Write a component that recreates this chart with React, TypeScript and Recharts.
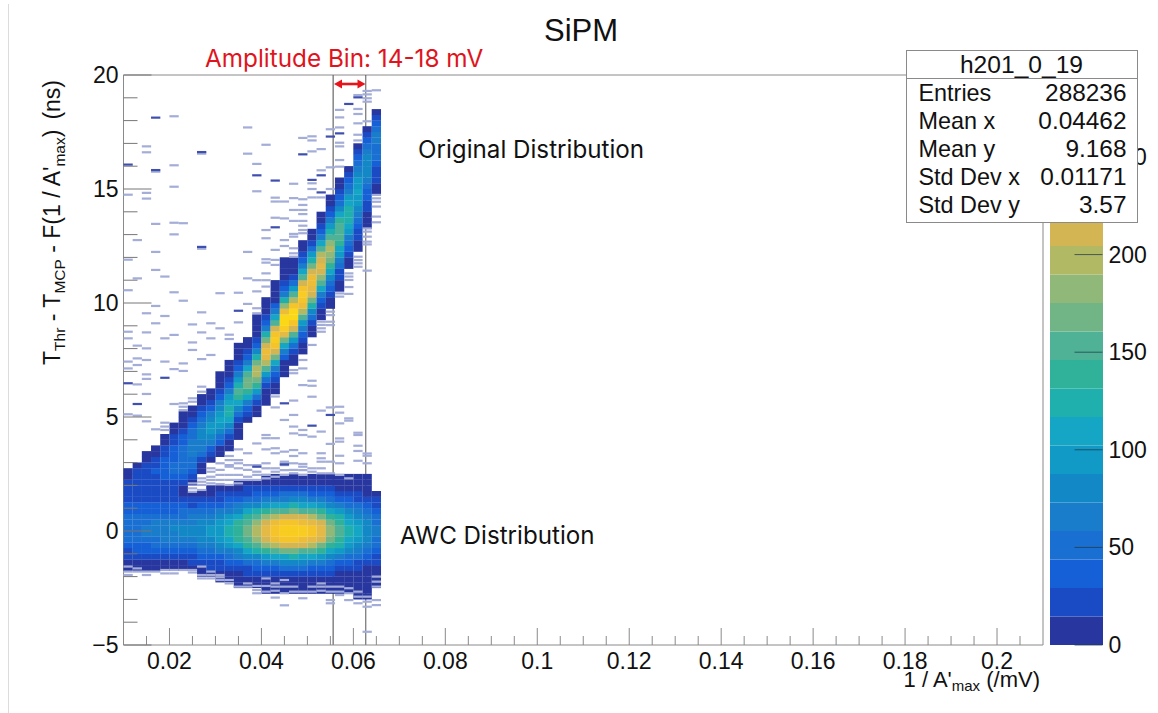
import React from 'react';
import { ScatterChart, Scatter, XAxis, YAxis, ReferenceLine, BarChart, Bar } from 'recharts';

const columnCentres = [
  0.011, 0.013, 0.015, 0.017, 0.019, 0.021, 0.023, 0.025, 0.027, 0.029, 0.031, 0.033, 0.035, 0.037,
  0.039, 0.041, 0.043, 0.045, 0.047, 0.049, 0.051, 0.053, 0.055, 0.057, 0.059, 0.061, 0.063, 0.065,
];

// lower (AWC) band, one row per column, rows of 0.25 ns starting at -3 ns
const awcStart = -3;
const awcCounts = [
  [0,0,0,0,0,4,10,18,28,38,47,53,55,52,46,38,30,24,20,18,16,12],
  [0,0,0,0,0,5,11,19,30,40,50,56,58,55,48,39,30,24,21,20,20,18],
  [0,0,0,0,0,5,11,20,32,43,54,60,62,58,50,40,30,24,22,22,22,22],
  [0,0,0,0,0,5,11,21,34,46,58,64,66,61,52,41,30,24,23,24,26,27],
  [0,0,0,0,0,5,12,23,36,49,61,68,70,64,54,42,30,22,20,22,28,32],
  [0,0,0,0,0,5,13,24,38,52,64,72,74,67,56,43,30,20,16,20,28,36],
  [0,0,0,0,0,5,14,26,40,55,68,76,78,70,58,44,30,18,12,14,24,36],
  [0,0,0,0,0,6,15,28,43,58,71,79,79,72,60,45,29,16,8,0,0,0],
  [0,0,0,0,6,13,22,34,47,61,73,79,79,73,61,47,34,22,13,0,0,0],
  [0,0,0,0,8,15,25,38,53,68,82,89,89,82,68,53,38,24,14,8,0,0],
  [0,0,0,2,9,16,28,43,60,78,93,101,101,93,78,60,43,28,16,9,0,0],
  [0,0,0,3,10,19,32,50,71,91,109,119,119,109,91,71,50,32,19,10,0,0],
  [0,0,2,5,13,23,39,61,86,110,132,144,143,132,110,85,61,39,23,13,6,0],
  [0,0,3,7,15,28,47,73,103,133,159,173,173,159,133,103,73,47,28,15,7,0],
  [0,0,4,9,18,33,55,86,121,156,187,203,203,186,156,121,86,55,33,18,9,0],
  [0,1,4,10,21,38,63,99,139,179,214,233,232,214,179,139,99,63,38,21,10,3],
  [0,2,5,11,23,42,70,109,153,198,237,257,257,237,198,153,109,70,42,23,11,5],
  [0,1,4,12,24,44,74,115,162,209,250,272,270,250,209,160,115,72,44,24,12,4],
  [0,2,5,12,25,45,76,118,165,213,255,277,277,255,213,165,118,76,45,25,12,5],
  [0,2,5,12,24,44,73,114,160,207,248,269,269,248,207,160,114,73,44,24,12,5],
  [0,2,5,11,22,40,68,106,149,192,229,249,249,229,192,149,106,68,40,22,11,5],
  [0,2,5,10,20,36,61,95,133,171,205,223,223,205,171,133,95,61,36,20,10,4],
  [0,2,4,8,17,30,51,80,112,144,173,188,188,173,144,112,80,51,30,17,8,4],
  [0,1,4,7,14,25,42,65,91,118,141,153,153,141,118,91,65,42,25,14,7,3],
  [0,1,3,6,11,20,34,52,74,95,114,124,124,114,95,74,52,34,20,11,6,3],
  [1,2,3,5,9,17,28,44,62,80,96,104,104,96,80,62,44,28,17,9,5,2],
  [1,2,3,4,8,14,23,36,50,65,77,84,84,77,65,50,36,23,14,8,4,2],
  [0,0,1,3,6,10,17,26,37,47,56,61,61,56,47,37,26,17,10,0,0,0],
];

// upper (original) band, rows of 0.25 ns from mainStart of each column
const mainStart = [
  2.5, 2.5, 2.5, 2.5, 2.5, 2.5, 2.5, 2, 2.5, 3, 3.25, 3.5, 4, 4.75,
  5, 5.5, 6, 6.75, 7.25, 7.75, 8.5, 9.25, 9.75, 10.5, 11.5, 12.25, 13.25, 14.75,
];
const mainCounts = [
  [8],
  [18,8],
  [26,18,10,4],
  [34,28,20,10,3],
  [40,38,34,28,20,12,5],
  [44,44,42,38,32,26,18,10,4],
  [48,52,52,50,44,38,30,22,14,8,3],
  [8,20,34,46,56,62,64,60,52,44,34,24,12,5],
  [6,14,28,44,60,72,78,76,66,52,38,24,12,5],
  [8,20,38,60,80,92,92,80,62,42,24,12,5],
  [5,14,30,52,78,98,106,100,84,62,42,24,12,4,1],
  [5,12,26,48,76,104,122,126,114,92,66,42,24,12,5,2],
  [2,5,12,26,49,82,116,141,148,128,95,60,32,15,6,2,1],
  [7,17,36,66,104,143,170,174,150,112,71,38,17,7,2],
  [4,10,24,50,88,133,174,198,195,166,122,78,43,20,8,3,1,1],
  [2,5,12,28,58,100,150,198,232,240,218,172,118,70,36,16,6,2,1],
  [3,7,16,34,65,110,163,215,253,268,255,215,160,105,60,30,13,5,2,1],
  [2,6,14,32,64,110,170,228,272,290,278,238,180,122,72,38,18,7,3,1,1],
  [4,10,24,52,96,150,208,255,280,278,250,200,146,95,55,28,12,5,2],
  [3,7,16,34,62,102,150,198,238,262,268,250,210,160,110,68,38,18,8,3],
  [4,10,22,44,78,120,165,205,232,245,240,215,175,130,88,54,28,13,5],
  [3,8,18,38,68,106,148,186,213,226,218,192,152,110,72,42,22,10,4],
  [3,8,16,30,52,80,112,143,170,186,192,182,158,126,92,62,38,20,10,4],
  [4,9,16,28,44,64,88,112,134,150,156,150,132,108,82,58,38,22,11,4],
  [6,12,21,33,49,68,88,106,120,126,122,108,90,70,50,33,20,10],
  [5,9,15,23,33,45,60,74,88,98,104,102,93,79,63,46,31,19,9],
  [6,9,13,18,25,33,43,54,66,76,84,84,77,66,52,38,25,13],
  [6,10,15,21,28,36,44,52,58,62,60,52,40,26,10],
];

// isolated single-count bins (y in ns) by column
const strayFaint = [
  [14.75,11.9,10.56,8.74,8.45,7.43,7.13,5.12,-1.56,-1.78,-1.93],
  [12.76,11.08,8.13,7.57,7.28,6.43,5.06,-1.64,-1.78],
  [16.87,16.61,14.83,14.58,9.55,8.71,8.01,7.5,6.87,6.67,6.01,4.81,-1.78,-1.93],
  [15.76,13.47,12.24,11.45,9.87,9.11,4.46,-1.78],
  [11.16,9.43,8.45,7.43,4.75,4.58,4.43,-1.71,-1.86],
  [18.19,16.04,15.1,13.52,13.01,10.47,8.6,7.1,5.57,-1.71,-1.86],
  [13.5,10.1,7.35,7.02,5.6,5.45,5.3,-1.71],
  [9.06,8.27,7.94,5.82,5.67,2.09,1.87,1.72,-1.71,-1.82],
  [16.55,12.38,9.59,8.71,7.54,6.33,6.11,2.31,2.16,2.02,1.8,-1.56,-1.93,-2.08],
  [9.11,8.45,7.72,2.75,2.6,2.38,2.24,2.09,-1.78,-1.93,-2.08],
  [10.43,8.89,2.97,2.68,2.46,2.24,2.06,-1.93,-2.03,-2.15],
  [8.61,8.42,3.29,3.11,2.89,2.82,2.46,2.24,2.02,-2.15,-2.3],
  [10.45,9.15,3.58,3.11,2.97,2.75,2.46,2.24,2.09,-2.44],
  [17.7,16.55,12.24,11.08,9.96,3.41,2.89,2.68,2.38,2.24,-2.3,-2.44],
  [16.1,14.9,11,10.51,9.77,9.55,3.84,2.89,2.6,2.46,2.24,-2.41,-2.59,-2.73],
  [16.94,13.2,12.84,11.92,11.77,11.3,11,10.72,4.21,4.07,3.58,2.97,2.75,2.46,2.31,-2.08,-2.41,-2.66],
  [14.62,14.45,13.74,12.33,11.89,11.67,5.9,5.42,4.07,3.63,3.41,2.75,2.6,2.38,-2.3,-2.44,-2.62,-2.92],
  [14.45,13.71,12.76,12.5,4.87,3.48,3.04,2.97,2.89,2.67,2.46,-2.15,-2.44,-2.73,-3.26],
  [15.23,14.6,14.08,13.6,13.03,12.91,12.4,12.18,12.03,7.06,6.92,5.72,5.09,4.58,4.28,3.55,3.29,2.97,2.68,2.53,-2.44,-2.66],
  [17.24,14.55,14.3,14.08,13.9,13.6,13.39,13.2,13.06,7.5,7.13,6.4,4.43,4.21,3.41,2.94,2.82,2.67,2.46,-2.66,-2.95],
  [17.31,17.13,16.65,15.25,15,14.63,8.16,6.59,6.37,5.89,4.14,2.75,2.6,-2.44,-2.66],
  [16.75,15.82,14.63,9.18,9.04,8.89,8.74,5.28,4.36,3.41,3.19,3.04,2.75,2.53,-2.3,-2.44,-2.62],
  [17.62,15.95,15,9.62,9.47,9.18,9.03,5.42,3.82,3.04,2.53,-2.44,-2.66,-3.03,-3.17],
  [18.47,18.14,17.7,17.03,16.87,16.27,15.98,10.42,10.28,5.45,5.19,4.72,4.06,3.92,3.3,2.97,2.46,-2.44,-2.66,-2.81],
  [11.3,11.16,11.01,10.7,10.4,4.94,4.84,2.31,-2.51,-2.73,-3.03],
  [19.12,18.51,18.29,17.88,17.38,17.13,12.03,11.88,11.74,11.59,4.31,4.21,3.74,3.51,3.08,-2.66,-2.88,-3.17],
  [19.3,19.15,18.98,18.83,17.97,13.27,13.13,12.91,12.69,12.57,11.42,3.4,3.3,2.97,-2.88,-3.1,-3.32,-4.42],
  [19.33,14.74,14.59,14.44,14.23,13.79,13.54,-2,-2.22,-2.44,-3.03,-3.25],
];
const straySolid = [
  [16.07,6.48],[5.57],[],[18.13,15.83],[6.72],[],[],[],[16.62,12.46],[],[],[],[9.66],[],
  [15.6,2.82],[],[15.37,13.32],[5.6,2.92],[],[16.52],[15.4,4.62],[15.6,14.85],[17.3,5.09],[17.44],[18.73],[19.02],[],[],
];

const contourColors = [
  '#28369f', '#1a4bc4', '#1560d6', '#1a6fd2', '#1a7dcb', '#1388c6', '#129ac6', '#14a6c4', '#1fafac', '#2fb19a',
  '#4fb296', '#71b587', '#90b878', '#b2b964', '#d3b553', '#e4b945', '#eebd38', '#f5c42a', '#f8cc20', '#fad818',
];
const contourStep = 14.6;

const xTicks = [
  0.01, 0.015, 0.02, 0.025, 0.03, 0.035, 0.04, 0.045, 0.05, 0.055, 0.06, 0.065, 0.07, 0.075, 0.08, 0.085, 0.09,
  0.095, 0.1, 0.105, 0.11, 0.115, 0.12, 0.125, 0.13, 0.135, 0.14, 0.145, 0.15, 0.155, 0.16, 0.165, 0.17, 0.175,
  0.18, 0.185, 0.19, 0.195, 0.2, 0.205,
];
const xLabels = [0.02, 0.04, 0.06, 0.08, 0.1, 0.12, 0.14, 0.16, 0.18, 0.2];
const yTicks = [-5,-4,-3,-2,-1,0,1,2,3,4,5,6,7,8,9,10,11,12,13,14,15,16,17,18,19,20];
const zTicks = [0, 50, 100, 150, 200, 250];

const statsRows = [
  ['Entries', '288236'],
  ['Mean x', '0.04462'],
  ['Mean y', '9.168'],
  ['Std Dev x', '0.01171'],
  ['Std Dev y', '3.57'],
];

const sansFont = '"Liberation Sans", Arial, sans-serif';
const noteFont = 'Inter, "Open Sans", sans-serif';

const CELL_W = 9.3;
const ROW_PX = 5.9; // 0.25 ns
const STRAY_PX = 2.2;

const levelOf = (count: number) => Math.min(contourColors.length - 1, Math.floor(count / contourStep));

const heatCells: { x: number; y: number; count: number }[] = [];
columnCentres.forEach((x, c) => {
  awcCounts[c].forEach((count, r) => {
    if (count > 0) heatCells.push({ x, y: awcStart + 0.25 * r + 0.125, count });
  });
  mainCounts[c].forEach((count, r) => {
    if (count > 0) heatCells.push({ x, y: mainStart[c] + 0.25 * r + 0.125, count });
  });
});
const faintCells = columnCentres.flatMap((x, c) => strayFaint[c].map((y) => ({ x, y })));
const solidCells = columnCentres.flatMap((x, c) => straySolid[c].map((y) => ({ x, y })));

const barRow = Object.fromEntries(contourColors.map((_, i) => [`level${i}`, contourStep]));

function HeatRect(props: any) {
  return (
    <rect
      x={props.cx - CELL_W / 2}
      y={props.cy - ROW_PX / 2}
      width={CELL_W}
      height={ROW_PX}
      fill={contourColors[levelOf(props.payload.count)]}
    />
  );
}

function strayRect(fill: string) {
  return (props: any) => (
    <rect x={props.cx - CELL_W / 2} y={props.cy - STRAY_PX / 2} width={CELL_W} height={STRAY_PX} fill={fill} />
  );
}

function XTick({ x, y, payload }: any) {
  const major = xLabels.includes(payload.value);
  return (
    <g>
      <line x1={x} x2={x} y1={y} y2={y - (major ? 17 : 9)} stroke="#8a8a8a" strokeWidth={1} />
      {major && (
        <text x={x} y={y + 24} textAnchor="middle" fontSize={23} fontFamily={sansFont} fill="#111">
          {payload.value}
        </text>
      )}
    </g>
  );
}

function YTick({ x, y, payload }: any) {
  const major = payload.value % 5 === 0;
  return (
    <g>
      <line x1={x} x2={x + (major ? 28 : 14)} y1={y} y2={y} stroke="#777" strokeWidth={1} />
      {major && (
        <text x={x - 5} y={y + 8} textAnchor="end" fontSize={23} fontFamily={sansFont} fill="#111">
          {payload.value < 0 ? `\u2212${-payload.value}` : payload.value}
        </text>
      )}
    </g>
  );
}

function ZTick({ x, y, payload }: any) {
  return (
    <g>
      <line x1={x - 28} x2={x} y1={y} y2={y} stroke="#1f3a4a" strokeWidth={1} opacity={0.75} />
      <text x={x + 6} y={y + 8} fontSize={23} fontFamily={sansFont} fill="#111">
        {payload.value}
      </text>
    </g>
  );
}

export default function App() {
  return (
    <div style={{ position: 'absolute', left: 0, top: 0, width: 1158, height: 713, background: '#fff', overflow: 'hidden' }}>
      <div style={{ position: 'absolute', left: 8, top: 4, width: 1, height: 709, background: '#dcdcdc' }} />

      <div style={{ position: 'absolute', left: 0, top: 0 }}>
        <ScatterChart width={1158} height={713} margin={{ top: 75, right: 115, bottom: 28, left: 63.5 }}>
          <XAxis
            type="number"
            dataKey="x"
            domain={[0.01, 0.21]}
            ticks={xTicks}
            interval={0}
            height={40}
            tickSize={0}
            tickMargin={0}
            tickLine={false}
            stroke="#8a8a8a"
            tick={(p: any) => <XTick {...p} />}
          />
          <YAxis
            type="number"
            dataKey="y"
            domain={[-5, 20]}
            ticks={yTicks}
            interval={0}
            width={60}
            tickSize={0}
            tickMargin={0}
            tickLine={false}
            stroke="#8a8a8a"
            tick={(p: any) => <YTick {...p} />}
          />
          <Scatter data={heatCells} shape={HeatRect} isAnimationActive={false} />
          <Scatter data={faintCells} shape={strayRect('#a3add8')} isAnimationActive={false} />
          <Scatter data={solidCells} shape={strayRect('#3f4fb0')} isAnimationActive={false} />
          <ReferenceLine y={20} stroke="#8a8a8a" />
          <ReferenceLine x={0.21} stroke="#8a8a8a" />
          <ReferenceLine x={0.0556} stroke="#666" strokeWidth={1.2} />
          <ReferenceLine x={0.0627} stroke="#555" strokeWidth={1} />
          <ReferenceLine segment={[{ x: 0.01, y: 0 }, { x: 0.0161, y: 0 }]} stroke="#1c2a60" />
          <ReferenceLine segment={[{ x: 0.01, y: -1 }, { x: 0.0131, y: -1 }]} stroke="#1c2a60" />
        </ScatterChart>
      </div>

      <div style={{ position: 'absolute', left: 1049.5, top: 0 }}>
        <BarChart
          width={108.5}
          height={713}
          data={[barRow]}
          barCategoryGap={0}
          margin={{ top: 75, right: 0, bottom: 68, left: 0 }}
        >
          <XAxis hide />
          <YAxis
            orientation="right"
            type="number"
            domain={[0, 292]}
            ticks={zTicks}
            interval={0}
            width={56}
            axisLine={false}
            tickLine={false}
            tickSize={0}
            tickMargin={0}
            tick={(p: any) => <ZTick {...p} />}
          />
          {contourColors.map((color, i) => (
            <Bar key={color} dataKey={`level${i}`} stackId="z" fill={color} isAnimationActive={false} />
          ))}
        </BarChart>
      </div>

      <svg width={1158} height={713} style={{ position: 'absolute', left: 0, top: 0 }}>
        <text x={581} y={41} textAnchor="middle" fontSize={31} fontFamily={sansFont} fill="#111">SiPM</text>
        <text x={205} y={67} fontSize={24.3} fontFamily={noteFont} fill="#e0141c">Amplitude Bin: 14-18 mV</text>
        <text x={418} y={158} fontSize={24.2} fontFamily={noteFont} fill="#111">Original Distribution</text>
        <text x={400} y={544} fontSize={24.2} fontFamily={noteFont} fill="#111">AWC Distribution</text>
        <line x1={340} x2={360} y1={84} y2={84} stroke="#e8141c" strokeWidth={2.6} />
        <polygon points="334,84 342,79.5 342,88.5" fill="#e8141c" />
        <polygon points="365.5,84 357.5,79.5 357.5,88.5" fill="#e8141c" />
        <text transform="translate(60 365) rotate(-90)" fontSize={23} fontFamily={sansFont} fill="#111">
          T<tspan fontSize={15.5} dy={5}>Thr</tspan>
          <tspan dy={-5}> - T</tspan>
          <tspan fontSize={15.5} dy={5}>MCP</tspan>
          <tspan dy={-5}> - F(1 / A'</tspan>
          <tspan fontSize={15.5} dy={5}>max</tspan>
          <tspan dy={-5}>)</tspan>
          <tspan dx={10}>(ns)</tspan>
        </text>
        <text x={1040} y={687} textAnchor="end" fontSize={22} fontFamily={sansFont} fill="#111">
          1 / A'<tspan fontSize={15} dy={4}>max</tspan>
          <tspan dy={-4}> (/mV)</tspan>
        </text>
      </svg>

      <div
        style={{
          position: 'absolute',
          left: 905.5,
          top: 50,
          width: 230,
          height: 171,
          background: '#fff',
          border: '1px solid #8a8a8a',
          fontFamily: sansFont,
          fontSize: 23.4,
          color: '#111',
        }}
      >
        <div style={{ height: 27, lineHeight: '27px', textAlign: 'center', borderBottom: '1px solid #8a8a8a', fontSize: 24.6 }}>h201_0_19</div>
        {statsRows.map(([name, value]) => (
          <div key={name} style={{ display: 'flex', justifyContent: 'space-between', height: 28, lineHeight: '28px', padding: '0 10px 0 12px' }}>
            <span>{name}</span>
            <span style={{ fontSize: 24.4 }}>{value}</span>
          </div>
        ))}
      </div>
    </div>
  );
}
